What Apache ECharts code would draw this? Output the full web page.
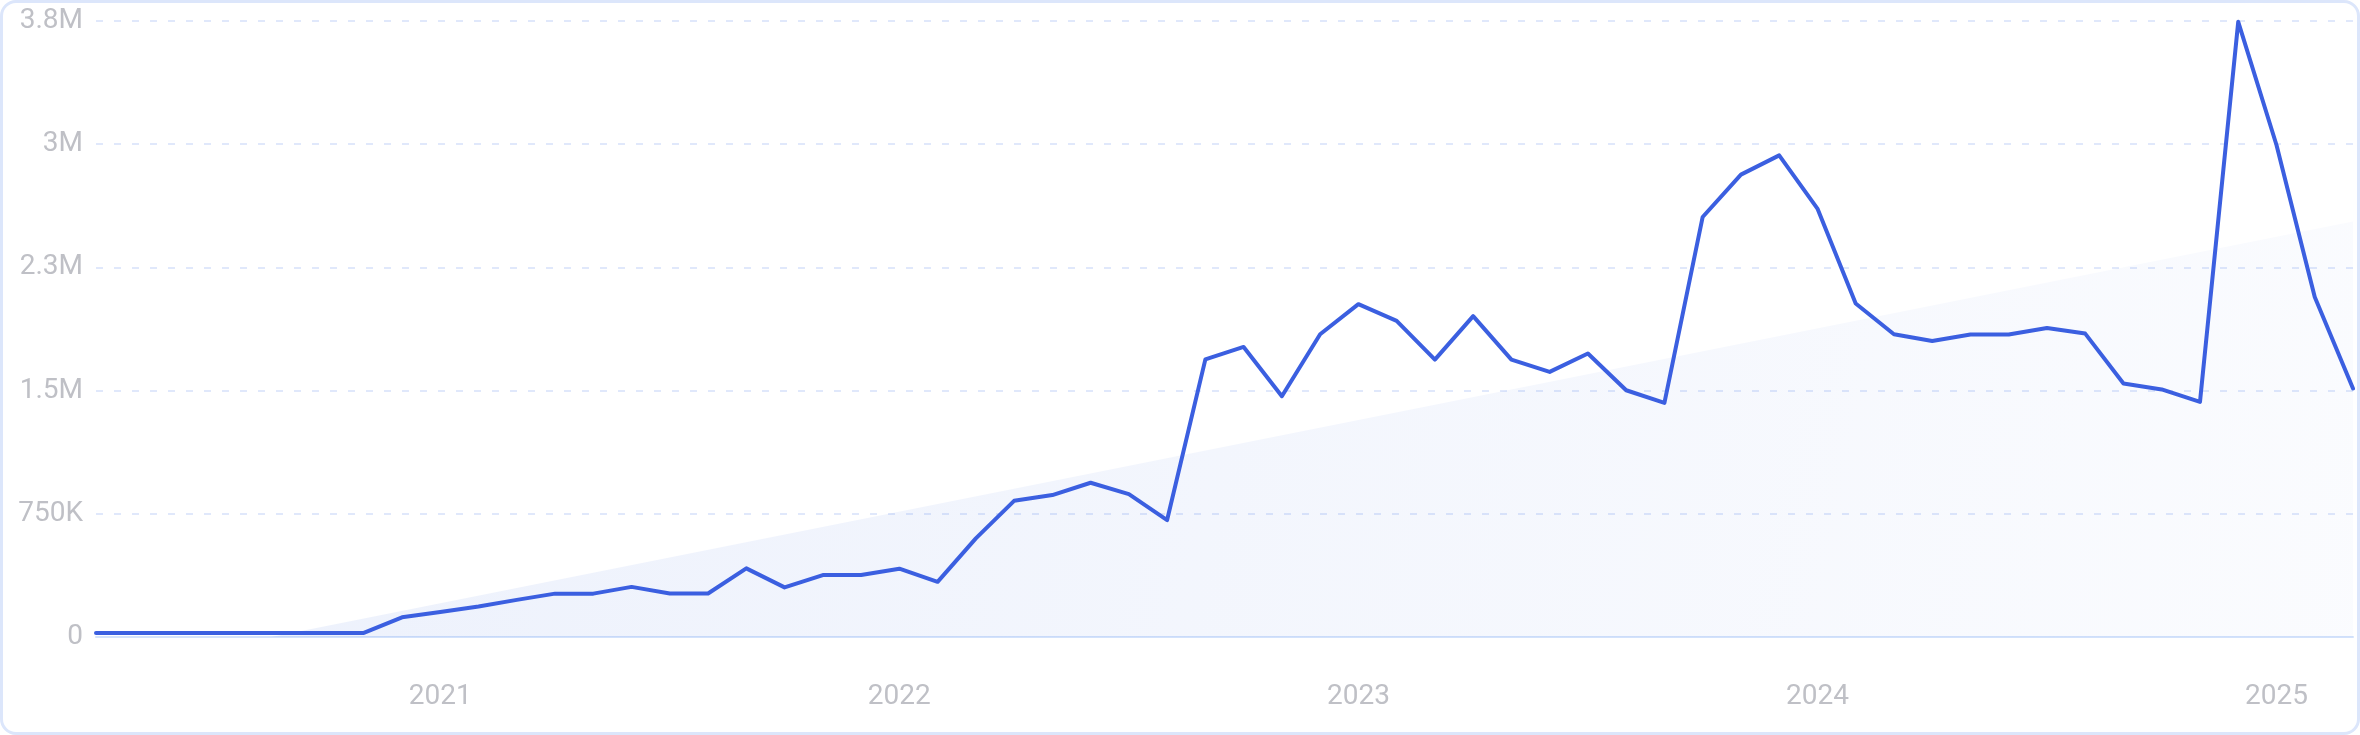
<!DOCTYPE html>
<html>
<head>
<meta charset="utf-8">
<script src="https://cdn.jsdelivr.net/npm/echarts@6/dist/echarts.min.js"></script>
<style>
  html, body { margin: 0; padding: 0; background: #ffffff; }
  #wrap { position: relative; width: 2360px; height: 735px; }
  #chart { position: absolute; left: 0; top: 0; width: 2360px; height: 735px; }
  #frame { position: absolute; left: 0; top: 0; width: 2360px; height: 735px; box-sizing: border-box;
           border: 3px solid #dce6fb; border-radius: 16px; pointer-events: none; }
</style>
</head>
<body>
<div id="wrap"><div id="chart"></div><div id="frame"></div></div>
<script>
const months = [
  '2020-04','2020-05','2020-06','2020-07','2020-08','2020-09','2020-10','2020-11','2020-12',
  '2021-01','2021-02','2021-03','2021-04','2021-05','2021-06','2021-07','2021-08','2021-09','2021-10','2021-11','2021-12',
  '2022-01','2022-02','2022-03','2022-04','2022-05','2022-06','2022-07','2022-08','2022-09','2022-10','2022-11','2022-12',
  '2023-01','2023-02','2023-03','2023-04','2023-05','2023-06','2023-07','2023-08','2023-09','2023-10','2023-11','2023-12',
  '2024-01','2024-02','2024-03','2024-04','2024-05','2024-06','2024-07','2024-08','2024-09','2024-10','2024-11','2024-12',
  '2025-01','2025-02','2025-03'
];
const volume = [
  25000, 25000, 25000, 25000, 25000, 25000, 25000, 25000, 120000,
  152000, 186000, 226000, 264000, 264000, 305000, 265000, 265000, 418000, 302000, 377000, 377000,
  416000, 336000, 600000, 829000, 864000, 939000, 870000, 712000, 1690000, 1766000, 1466000, 1843000,
  2026000, 1924000, 1689000, 1953000, 1689000, 1614000, 1726000, 1502000, 1425000, 2557000, 2815000, 2932000,
  2608000, 2030000, 1843000, 1802000, 1841000, 1841000, 1881000, 1847000, 1543000, 1507000, 1431000, 3745000,
  2995000, 2070000, 1513000
];
// trend line: only its two end values are given, the line joins them
const trend = months.map(function () { return null; });
trend[0] = -213000;
trend[months.length - 1] = 2530000;

const yMin = 0, yMax = 3750000, yStep = 750000;

function fmtY(v) {
  if (v === 0) return '0';
  if (v < 1000000) return (v / 1000) + 'K';
  return (v / 1000000).toFixed(1).replace(/\.0$/, '') + 'M';
}

const chart = echarts.init(document.getElementById('chart'), null, { renderer: 'canvas' });
chart.setOption({
  animation: false,
  backgroundColor: '#ffffff',
  grid: { left: 96, right: 7, top: 21, bottom: 98, containLabel: false },
  xAxis: {
    type: 'category',
    data: months,
    boundaryGap: false,
    axisLine: { show: true, lineStyle: { color: '#d3e2fb', width: 2 } },
    axisTick: { show: false },
    splitLine: { show: false },
    axisLabel: {
      interval: function (idx, val) { return val.slice(5) === '01'; },
      formatter: function (val) { return val.slice(0, 4); },
      color: '#bfc0c6',
      fontFamily: 'Roboto',
      fontSize: 28,
      margin: 46
    }
  },
  yAxis: {
    type: 'value',
    min: yMin, max: yMax, interval: yStep,
    axisLine: { show: false },
    axisTick: { show: false },
    splitLine: { show: true, lineStyle: { color: '#e0e8fb', width: 2, type: [7, 11] } },
    axisLabel: {
      formatter: fmtY,
      color: '#bfc0c6',
      fontFamily: 'Roboto',
      fontSize: 28,
      margin: 13
    }
  },
  series: [
    {
      name: 'trend',
      type: 'line',
      data: trend,
      connectNulls: true,
      showSymbol: false,
      symbol: 'none',
      z: 1,
      lineStyle: { width: 0, opacity: 0 },
      areaStyle: {
        color: new echarts.graphic.LinearGradient(0, 0, 1, 1, [
          { offset: 0, color: 'rgba(70,115,225,0.15)' },
          { offset: 1, color: 'rgba(70,115,225,0.035)' }
        ])
      }
    },
    {
      name: 'volume',
      type: 'line',
      data: volume,
      showSymbol: false,
      symbol: 'none',
      z: 3,
      lineStyle: { color: '#3b5fe0', width: 4, join: 'round', cap: 'round' }
    }
  ]
});
</script>
</body>
</html>
